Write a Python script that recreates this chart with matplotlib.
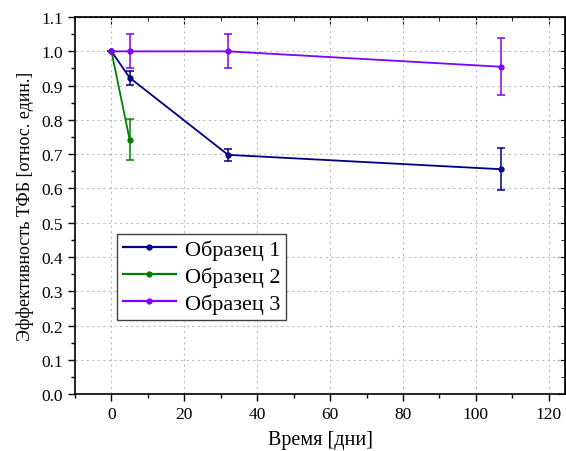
import matplotlib.pyplot as plt
from matplotlib.lines import Line2D
from matplotlib.ticker import MultipleLocator

plt.rcParams['font.family'] = ['Liberation Serif', 'DejaVu Serif']

# Data
days_1 = [0, 5, 32, 107]
eff_1 = [1.0, 0.923, 0.698, 0.656]
err_1 = [0.0, 0.02, 0.018, 0.062]

days_2 = [0, 5]
eff_2 = [1.0, 0.742]
err_2 = [0.0, 0.06]

days_3 = [0, 5, 32, 107]
eff_3 = [1.0, 1.0, 1.0, 0.955]
err_3 = [0.0, 0.05, 0.05, 0.083]

labels = ['Образец 1', 'Образец 2', 'Образец 3']
colors = ['#000080', '#008000', '#8000FF']

fig = plt.figure(figsize=(5.66, 4.52), dpi=100)
ax = fig.add_axes([0.1325, 0.126, 0.866, 0.834])

series = [(days_1, eff_1, err_1), (days_2, eff_2, err_2), (days_3, eff_3, err_3)]
handles = []
for (x, y, e), lab, c in zip(series, labels, colors):
    ax.errorbar(x, y, yerr=e, color=c, lw=1.3, marker='o', markersize=3.5,
                capsize=3, capthick=1.1, elinewidth=1.1)
    handles.append(Line2D([], [], color=c, lw=1.6, marker='o', markersize=3.5, label=lab))

ax.set_xlim(-10, 124.5)
ax.set_ylim(0, 1.1)
ax.xaxis.set_major_locator(MultipleLocator(20))
ax.xaxis.set_minor_locator(MultipleLocator(10))
ax.yaxis.set_major_locator(MultipleLocator(0.1))
ax.yaxis.set_minor_locator(MultipleLocator(0.05))
ax.yaxis.set_major_formatter(plt.FormatStrFormatter('%.1f'))

ax.tick_params(which='both', direction='out', top=False, right=False, labelsize=12.5)
ax.tick_params(which='major', length=5, width=1)
ax.tick_params(which='minor', length=3, width=1)
# mirrored ticks on top and right point inward
sec_x = ax.secondary_xaxis('top')
sec_x.xaxis.set_major_locator(MultipleLocator(20))
sec_x.xaxis.set_minor_locator(MultipleLocator(10))
sec_x.tick_params(which='both', direction='in', labeltop=False)
sec_x.tick_params(which='major', length=5)
sec_x.tick_params(which='minor', length=3)
sec_y = ax.secondary_yaxis('right')
sec_y.yaxis.set_major_locator(MultipleLocator(0.1))
sec_y.yaxis.set_minor_locator(MultipleLocator(0.05))
sec_y.tick_params(which='both', direction='in', labelright=False)
sec_y.tick_params(which='major', length=5)
sec_y.tick_params(which='minor', length=3)

for s in ax.spines.values():
    s.set_linewidth(1.2)

ax.grid(True, which='major', color='#bdbdbd', linestyle=(0, (2, 3)), linewidth=0.8)

ax.set_xlabel('Время [дни]', fontsize=14.5, labelpad=6)
ax.set_ylabel('Эффективность ТФБ [относ. един.]', fontsize=13, labelpad=5)

leg = ax.legend(handles=handles, loc='lower left', bbox_to_anchor=(0.086, 0.197),
                fontsize=16, fancybox=False, edgecolor='#404040', framealpha=1,
                handlelength=2.4, borderaxespad=0, borderpad=0.25,
                labelspacing=0.3, handletextpad=0.4)
leg.get_frame().set_linewidth(1.0)

fig.savefig('out.png', dpi=100)
